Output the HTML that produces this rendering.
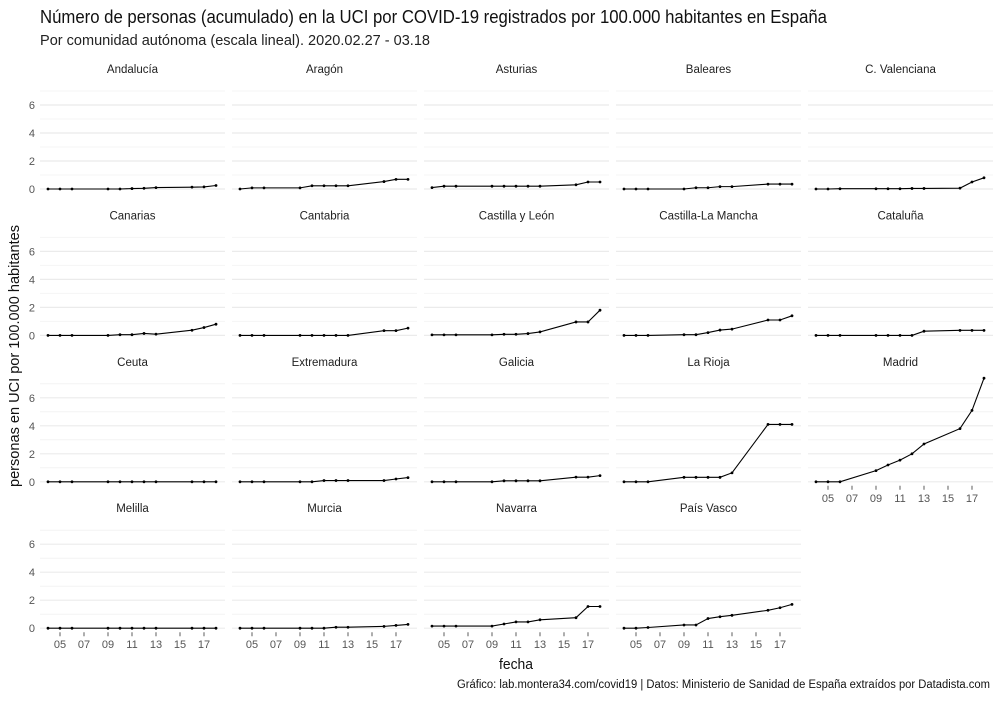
<!DOCTYPE html>
<html><head><meta charset="utf-8">
<style>
body{margin:0;background:#fff;}
svg text{font-family:"Liberation Sans Narrow","Liberation Sans",sans-serif;}
</style></head>
<body>
<svg id="chart" width="1000" height="700" xmlns="http://www.w3.org/2000/svg">
<text x="40" y="23" font-size="18" fill="#111" textLength="787" lengthAdjust="spacingAndGlyphs">Número de personas (acumulado) en la UCI por COVID-19 registrados por 100.000 habitantes en España</text>
<text x="40" y="45" font-size="14.5" fill="#222" textLength="390" lengthAdjust="spacingAndGlyphs">Por comunidad autónoma (escala lineal). 2020.02.27 - 03.18</text>
<text transform="translate(19,356) rotate(-90)" text-anchor="middle" font-size="15" fill="#111" textLength="262" lengthAdjust="spacingAndGlyphs">personas en UCI por 100.000 habitantes</text>
<text x="516" y="669" text-anchor="middle" font-size="15" fill="#111" textLength="34" lengthAdjust="spacingAndGlyphs">fecha</text>
<text x="990" y="688" text-anchor="end" font-size="11.5" fill="#111" textLength="533" lengthAdjust="spacingAndGlyphs">Gráfico: lab.montera34.com/covid19 | Datos: Ministerio de Sanidad de España extraídos por Datadista.com</text>
<g id="panels"></g>
</svg>
<script>
const days = [4,5,6,9,10,11,12,13,16,17,18];
const regions = ["Andalucía","Aragón","Asturias","Baleares","C. Valenciana","Canarias","Cantabria","Castilla y León","Castilla-La Mancha","Cataluña","Ceuta","Extremadura","Galicia","La Rioja","Madrid","Melilla","Murcia","Navarra","País Vasco"];
const vAndalucia = [0,0,0,0,0,0.03,0.05,0.1,0.13,0.15,0.25];
const vAragon = [0,0.08,0.08,0.08,0.23,0.23,0.23,0.23,0.53,0.69,0.69];
const vAsturias = [0.1,0.2,0.2,0.2,0.2,0.2,0.2,0.2,0.3,0.5,0.5];
const vBaleares = [0,0,0,0,0.09,0.09,0.17,0.17,0.35,0.35,0.35];
const vValenciana = [0,0,0.02,0.02,0.02,0.02,0.04,0.04,0.06,0.5,0.8];
const vCanarias = [0,0,0,0,0.05,0.05,0.14,0.09,0.37,0.56,0.8];
const vCantabria = [0,0,0,0,0,0,0,0,0.34,0.34,0.52];
const vCyL = [0.04,0.04,0.04,0.04,0.08,0.08,0.13,0.25,0.96,0.96,1.8];
const vCLM = [0,0,0,0.05,0.05,0.2,0.38,0.45,1.1,1.1,1.4];
const vCataluna = [0,0,0,0,0,0,0,0.3,0.36,0.36,0.36];
const vCeuta = [0,0,0,0,0,0,0,0,0,0,0];
const vExtremadura = [0,0,0,0,0,0.09,0.09,0.09,0.09,0.2,0.3];
const vGalicia = [0,0,0,0,0.07,0.07,0.07,0.07,0.33,0.33,0.44];
const vRioja = [0,0,0,0.32,0.32,0.32,0.32,0.64,4.1,4.1,4.1];
const vMadrid = [0,0,0,0.8,1.2,1.55,2.0,2.7,3.8,5.1,7.4];
const vMelilla = [0,0,0,0,0,0,0,0,0,0,0];
const vMurcia = [0,0,0,0,0,0,0.07,0.07,0.13,0.2,0.27];
const vNavarra = [0.15,0.15,0.15,0.15,0.3,0.45,0.45,0.6,0.75,1.55,1.55];
const vPaisVasco = [0,0,0.05,0.23,0.23,0.69,0.82,0.92,1.28,1.46,1.7];
const series = [vAndalucia,vAragon,vAsturias,vBaleares,vValenciana,vCanarias,vCantabria,vCyL,vCLM,vCataluna,vCeuta,vExtremadura,vGalicia,vRioja,vMadrid,vMelilla,vMurcia,vNavarra,vPaisVasco];
const xTicks = [5,7,9,11,13,15,17];
const xTickLabels = ["05","07","09","11","13","15","17"];
const yTicks = [0,2,4,6];

const NS="http://www.w3.org/2000/svg";
const g=document.getElementById('panels');
function mk(t,a){const e=document.createElementNS(NS,t);for(const k in a)e.setAttribute(k,a[k]);return e;}
const PW=185, colStep=192, left0=40, rowStep=146.4, zero0=189, yUnit=14;
function xs(c,d){return left0+c*colStep+8+(d-4)*12;}
function ys(r,v){return zero0+r*rowStep-v*yUnit;}
regions.forEach((name,i)=>{
  const c=i%5, r=Math.floor(i/5);
  const pl=left0+c*colStep;
  const pg=mk('g',{});
  
  
  g.appendChild(pg);
  const st=mk('text',{x:pl+PW/2,y:ys(r,0)-116,'text-anchor':'middle','font-size':'11.5',fill:'#222'});
  
  
  st.textContent=name;pg.appendChild(st);
  for(let v=0;v<=7;v++){
    const ln=mk('line',{x1:pl,x2:pl+PW,y1:ys(r,v),y2:ys(r,v),stroke:v%2?'#f4f4f4':'#ebebeb','stroke-width':v%2?1:1.2});
    
    
    pg.appendChild(ln);
  }
  if(c===0){yTicks.forEach(v=>{
    const t=mk('text',{x:pl-5,y:ys(r,v)+4,'text-anchor':'end','font-size':'11',fill:'#555'});
    
    
    t.textContent=v;pg.appendChild(t);});}
  if(r===3||(r===2&&c===4)){xTicks.forEach((d,k)=>{
    const tk=mk('line',{x1:xs(c,d),x2:xs(c,d),y1:ys(r,0)+4,y2:ys(r,0)+8,stroke:'#333','stroke-width':0.8});
    
    
    pg.appendChild(tk);
    const t=mk('text',{x:xs(c,d),y:ys(r,0)+20,'text-anchor':'middle','font-size':'11',fill:'#555'});
    
    
    t.textContent=xTickLabels[k];pg.appendChild(t);});}
  const vals=series[i];
  const pts=vals.map((v,k)=>xs(c,days[k])+','+ys(r,v)).join(' ');
  const pline=mk('polyline',{points:pts,fill:'none',stroke:'#000','stroke-width':1.1});
  
  
  pg.appendChild(pline);
  vals.forEach((v,k)=>{
    const p=mk('circle',{cx:xs(c,days[k]),cy:ys(r,v),r:1.4,fill:'#000'});
    
    
    pg.appendChild(p);
  });
});
</script>
</body></html>
